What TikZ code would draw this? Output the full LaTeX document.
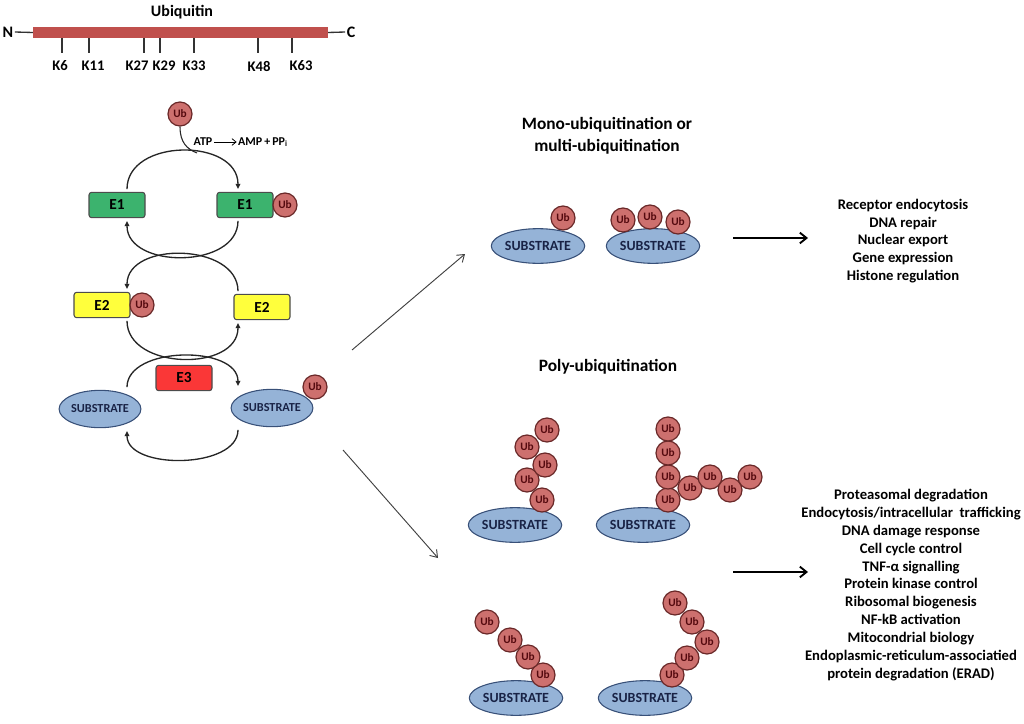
\documentclass[tikz,border=0pt]{standalone}
\usepackage{fontspec}
\setmainfont{Carlito}
\usetikzlibrary{arrows.meta,shapes.geometric,positioning}
\definecolor{barred}{RGB}{192,80,77}
\definecolor{ubfill}{RGB}{205,112,110}
\definecolor{ubline}{RGB}{105,40,40}
\definecolor{ubtext}{RGB}{85,10,15}
\definecolor{eonegreen}{RGB}{60,179,110}
\definecolor{etwoyellow}{RGB}{255,255,60}
\definecolor{ethreered}{RGB}{250,55,55}
\definecolor{subfill}{RGB}{149,179,215}
\definecolor{subline}{RGB}{56,80,120}
\definecolor{subtext}{RGB}{25,35,70}
\tikzset{
    ub/.style={circle,draw=ubline,fill=ubfill,line width=0.9pt,inner sep=0pt,minimum size=18pt,
      text=ubtext,font=\bfseries\fontsize{8.5}{9}\selectfont},
    enzyme/.style={draw=black!70,rounded corners=2pt,line width=0.8pt,minimum width=42pt,minimum height=19pt,
      font=\bfseries\fontsize{11.5}{12}\selectfont},
    substrate/.style={ellipse,draw=subline,fill=subfill,line width=0.8pt,inner sep=0pt,
      minimum width=70pt,minimum height=26pt,text=subtext,font=\bfseries\fontsize{10.5}{11}\selectfont},
    cycsub/.style={substrate,minimum width=61pt,minimum height=28pt,font=\bfseries\fontsize{9.2}{10}\selectfont},
    cyc/.style={line width=1pt,black!85,shorten <=2pt,shorten >=2pt,-{Triangle[open,length=4pt,width=3.5pt]}},
    diag/.style={black!75,line width=0.7pt,-{Straight Barb[length=5pt,width=7pt]}},
    fate/.style={black,line width=1.4pt,-{Straight Barb[length=5pt,width=8pt]}},
    tick/.style={black!80,line width=1pt},
    list/.style={align=center,font=\bfseries\fontsize{11}{13.4}\selectfont},
    head/.style={align=center,font=\bfseries\fontsize{13}{16.5}\selectfont},
    small/.style={inner sep=1pt,font=\bfseries\fontsize{9}{9}\selectfont}
}
\begin{document}
\begin{tikzpicture}[x=0.75pt,y=-0.75pt]
\useasboundingbox (0,0) rectangle (1024,724);
% ubiquitin sequence
\node[fill=barred,minimum width=221pt,minimum height=8.2pt,inner sep=0pt] (ubq) at (180.5,32.5) {};
\node[font=\bfseries\fontsize{12}{12}\selectfont] at (182,12) {Ubiquitin};
\node[font=\bfseries\fontsize{12}{12}\selectfont,inner sep=1pt] (nterm) at (8,32) {N};
\node[font=\bfseries\fontsize{12}{12}\selectfont,inner sep=1pt] (cterm) at (351,32) {C};
\draw[tick] (nterm.east) -- (ubq.west);
\draw[tick] (ubq.east) -- (cterm.west);
\foreach \k/\x/\lx in {6/62/60,11/89/93,27/144/137,29/160/164,33/194/194,48/258/259,63/292/301}{
  \node[font=\bfseries\fontsize{11}{11}\selectfont] (k\k) at (\lx,66) {K\k};
  \draw[tick] (\x,0 |- ubq.south) -- ++(0,15);
}
% E1-E2-E3 cascade
\coordinate (lx) at (127,0);
\coordinate (rx) at (238,0);
\node[ub] (ub0) at (180,114) {Ub};
\node[enzyme,fill=eonegreen] (e1a) at (117,205) {E1};
\node[enzyme,fill=eonegreen] (e1b) at (245,205) {E1};
\node[ub] (ub1) at (285,205) {Ub};
\node[enzyme,fill=etwoyellow] (e2a) at (102,305) {E2};
\node[ub] (ub2) at (142,305) {Ub};
\node[enzyme,fill=etwoyellow] (e2b) at (262,307) {E2};
\node[enzyme,fill=ethreered] (e3) at (184,378) {E3};
\node[cycsub] (s0) at (100,409) {SUBSTRATE};
\node[cycsub] (s1) at (272,408) {SUBSTRATE};
\node[ub] (ub3) at (315,387) {Ub};
\draw[cyc] (e1a.north -| lx) .. controls +(0,-54) and +(0,-54) .. (e1b.north -| rx);
\draw[cyc] (e1b.south -| rx) .. controls +(0,51) and +(0,51) .. (e1a.south -| lx);
\draw[cyc] (e2b.north -| rx) .. controls +(0,-51) and +(0,-51) .. (e2a.north -| lx);
\draw[cyc] (e2a.south -| lx) .. controls +(0,52) and +(0,52) .. (e2b.south -| rx);
\draw[cyc] (s0.north -| lx) .. controls +(0,-44) and +(0,-44) .. (s1.north -| rx);
\draw[cyc] (s1.south -| rx) .. controls +(0,42) and +(0,42) .. (s0.south -| lx);
\coordinate (join) at (197,153);
\draw[line width=0.8pt,black!85] (ub0.south) .. controls +(0,16) and +(-10,-4) .. (join);
\node[small] (atp) at (203,142) {ATP};
\node[small,right=17pt of atp] (amp) {AMP\,+\,PP\textsubscript{i}};
\draw[line width=0.6pt,-{Straight Barb[length=3pt,width=5pt]}] (atp) -- (amp);
% pathways
\coordinate (d0) at (352,350);
\coordinate (d1) at (465,254);
\coordinate (d2) at (343,450);
\coordinate (d3) at (438,558);
\draw[diag] (d0) -- (d1);
\draw[diag] (d2) -- (d3);
% mono / multi
\node[head] (monohead) at (607,136) {Mono-ubiquitination or\\multi-ubiquitination};
\node[substrate] (m1) at (538,246) {SUBSTRATE};
\node[ub] (mu1) at (563,218) {Ub};
\node[substrate] (m2) at (653,246) {SUBSTRATE};
\foreach \x/\y [count=\i] in {623/220,650/217,678/222}
  \node[ub] (mm\i) at (\x,\y) {Ub};
\node[list] (monolist) at (903,241) {Receptor endocytosis\\DNA repair\\Nuclear export\\Gene expression\\Histone regulation};
\coordinate (ma0) at (733,238);
\coordinate (ma1) at (808,238);
\draw[fate] (ma0) -- (ma1);
% poly
\node[head] (polyhead) at (608,367) {Poly-ubiquitination};
\node[substrate] (pa) at (515,525) {SUBSTRATE};
\foreach \x/\y [count=\i] in {542/500,527/480,545/465,527/447,547/430}
  \node[ub] (pa\i) at (\x,\y) {Ub};
\node[substrate] (pb) at (643,525) {SUBSTRATE};
\foreach \x/\y [count=\i] in {668/500,668/477,668/453,668/429,690/488,710/477,730/490,750/477}
  \node[ub] (pb\i) at (\x,\y) {Ub};
\node[substrate] (pc) at (516,698) {SUBSTRATE};
\foreach \x/\y [count=\i] in {543/675,528/657,510/640,487/622}
  \node[ub] (pc\i) at (\x,\y) {Ub};
\node[substrate] (pd) at (645,698) {SUBSTRATE};
\foreach \x/\y [count=\i] in {672/675,687/658,707/642,692/622,675/603}
  \node[ub] (pd\i) at (\x,\y) {Ub};
\node[list] (polylist) at (911,585) {Proteasomal degradation\\Endocytosis/intracellular\ \ trafficking\\DNA damage response\\Cell cycle\ control\\TNF-α signalling\\Protein kinase control\\Ribosomal\ biogenesis\\NF-kB activation\\Mitocondrial\ biology\\Endoplasmic-reticulum-associatied\\protein\ degradation (ERAD)};
\coordinate (pa0) at (733,572);
\coordinate (pa1) at (808,572);
\draw[fate] (pa0) -- (pa1);
\end{tikzpicture}
\end{document}
